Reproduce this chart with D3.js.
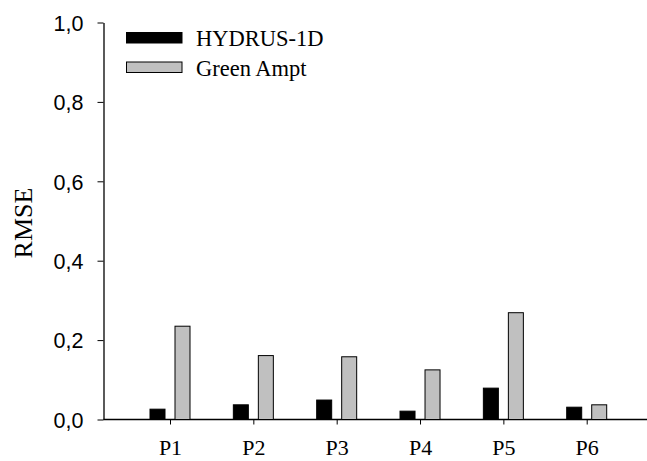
<!DOCTYPE html>
<html><head><meta charset="utf-8">
<script src="https://cdn.jsdelivr.net/npm/d3@7/dist/d3.min.js"></script>
<style>body{margin:0;background:#fff}</style>
</head><body>
<script>
const categories = ["P1","P2","P3","P4","P5","P6"];
const seriesNames = ["HYDRUS-1D","Green Ampt"];
const hydrus = [0.026,0.037,0.049,0.021,0.079,0.031];
const greenAmpt = [0.235,0.161,0.158,0.125,0.269,0.037];
const yTicks = [0,0.2,0.4,0.6,0.8,1.0];
const colors = ["#000000","#c0c0c0"];

const W=647,H=461;
const svg=d3.select("body").append("svg").attr("width",W).attr("height",H);
const y=d3.scaleLinear().domain([0,1]).range([419.5,22.5]);
const x=d3.scalePoint().domain(categories).range([170,586.7]);
const x1=d3.scaleBand().domain(seriesNames).range([-20.5,20.5]).paddingInner(0.36).paddingOuter(0);
const fmt=d=>d3.format(".1f")(d).replace(".",",");

// y axis
const ya=svg.append("g").attr("transform","translate(103.5,0)")
  .call(d3.axisLeft(y).tickValues(yTicks).tickFormat(fmt).tickSize(6).tickSizeOuter(0));
ya.select(".domain").attr("stroke","#000").attr("stroke-width",1.3);
ya.selectAll(".tick line").attr("stroke","#000");
ya.selectAll(".tick text").attr("font-family","Liberation Sans, Arial, sans-serif").attr("font-size",21.5).attr("fill","#000").attr("x",-20).attr("dy","0.36em");

// x axis
const xa=svg.append("g").attr("transform","translate(0,419.5)")
  .call(d3.axisBottom(x).tickSize(5).tickSizeOuter(0));
xa.select(".domain").remove();
xa.selectAll(".tick line").attr("stroke","#000");
xa.selectAll(".tick text").attr("font-family","Liberation Serif, Times New Roman, serif").attr("font-size",22).attr("fill","#000").attr("dy","1.26em");
svg.append("line").attr("x1",103.5).attr("x2",647).attr("y1",y(0)).attr("y2",y(0)).attr("stroke","#000").attr("stroke-width",1.3);

// bars
const data=[hydrus,greenAmpt];
data.forEach((vals,si)=>{
  svg.append("g").selectAll("rect").data(vals).join("rect")
    .attr("x",(d,i)=>x(categories[i])+x1(seriesNames[si])+0.5)
    .attr("width",x1.bandwidth()-1)
    .attr("y",d=>y(d))
    .attr("height",d=>y(0)-y(d))
    .attr("fill",colors[si]).attr("stroke","#000").attr("stroke-width",1);
});

// y label
svg.append("text").attr("transform","translate(32,223) rotate(-90)").attr("text-anchor","middle")
  .attr("font-family","Liberation Serif, Times New Roman, serif").attr("font-size",26).text("RMSE");

// legend
const lg=svg.append("g");
seriesNames.forEach((n,i)=>{
  lg.append("rect").attr("x",126.5).attr("y",32.5+i*29.5).attr("width",55.5).attr("height",10.5)
    .attr("fill",colors[i]).attr("stroke","#000").attr("stroke-width",1);
  lg.append("text").attr("x",196).attr("y",46+i*30).attr("font-family","Liberation Serif, Times New Roman, serif")
    .attr("font-size",22.5).text(n);
});
</script>
</body></html>
